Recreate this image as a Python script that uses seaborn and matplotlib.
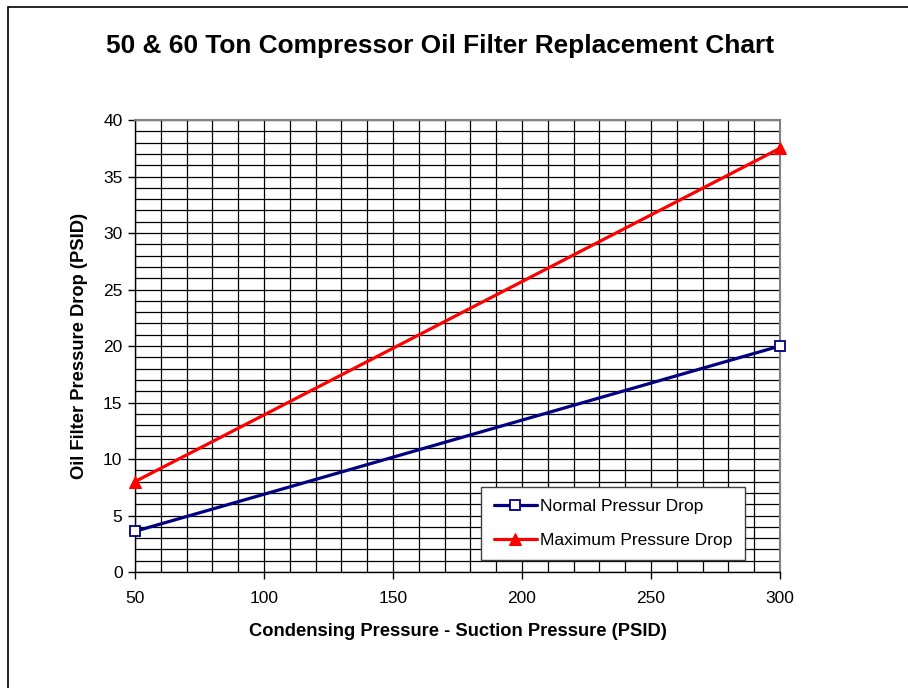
import matplotlib
matplotlib.use("Agg")
import matplotlib.pyplot as plt
import seaborn as sns
import pandas as pd
from matplotlib.patches import Rectangle

# Pressure differential (PSID) and filter pressure drop limits
condensing_minus_suction = [50, 300]
normal_drop = [3.6, 20.0]
maximum_drop = [8.0, 37.5]
series_names = ["Normal Pressur Drop", "Maximum Pressure Drop"]

x_ticks = [50, 100, 150, 200, 250, 300]
y_ticks = [0, 5, 10, 15, 20, 25, 30, 35, 40]

df = pd.DataFrame({
    "x": condensing_minus_suction * 2,
    "y": normal_drop + maximum_drop,
    "series": [series_names[0]] * 2 + [series_names[1]] * 2,
})

sns.set_style("white")
plt.rcParams["font.family"] = ["Liberation Sans", "DejaVu Sans"]
plt.rcParams["text.color"] = "black"
plt.rcParams["axes.labelcolor"] = "black"
plt.rcParams["xtick.color"] = "black"
plt.rcParams["ytick.color"] = "black"

fig = plt.figure(figsize=(9.08, 6.88), dpi=100)
ax = fig.add_axes([135 / 908, 1 - 572 / 688, (780 - 135) / 908, (572 - 120) / 688])

# outer chart frame
fig.patches.append(Rectangle((8 / 908, -0.05), 1.1, 1 - 7 / 688 + 0.05,
                             transform=fig.transFigure, fill=False,
                             edgecolor="black", linewidth=1.2, zorder=0))

# dense grid: every 10 PSID on x, every 1 PSID on y
for xv in range(50, 301, 10):
    ax.axvline(xv, color="black", linewidth=0.9, zorder=1)
for yv in range(0, 41, 1):
    ax.axhline(yv, color="black", linewidth=0.9, zorder=1)

palette = {series_names[0]: "#000080", series_names[1]: "#FF0000"}
markers = {series_names[0]: "s", series_names[1]: "^"}
sns.lineplot(data=df, x="x", y="y", hue="series", style="series",
             palette=palette, markers=markers, dashes=False,
             linewidth=2.3, markersize=8, ax=ax, zorder=3, clip_on=False)

# open square markers for the normal series
for line in ax.get_lines():
    if line.get_marker() == "s":
        line.set_markerfacecolor("white")
        line.set_markeredgecolor("#000080")
        line.set_markeredgewidth(1.3)
        line.set_markersize(7)
    elif line.get_marker() == "^":
        line.set_markerfacecolor("#FF0000")
        line.set_markeredgecolor("#FF0000")
        line.set_markersize(9)

ax.set_xlim(50, 300)
ax.set_ylim(0, 40)
ax.set_xticks(x_ticks)
ax.set_yticks(y_ticks)
ax.tick_params(axis="both", direction="out", length=5, width=1, color="black",
               labelsize=12.5, left=True, bottom=True, labelcolor="black")
ax.tick_params(axis="x", pad=9)
ax.tick_params(axis="y", pad=4)

for side in ["top", "right"]:
    ax.spines[side].set_color("#808080")
    ax.spines[side].set_linewidth(1.5)
for side in ["left", "bottom"]:
    ax.spines[side].set_color("black")
    ax.spines[side].set_linewidth(1.0)

ax.set_xlabel("Condensing Pressure - Suction Pressure (PSID)", fontsize=13.2,
              fontweight="bold", labelpad=12, color="black")
ax.set_ylabel("Oil Filter Pressure Drop (PSID)", fontsize=13.2,
              fontweight="bold", labelpad=11, color="black")

fig.text(440 / 908, 1 - 46 / 688, "50 & 60 Ton Compressor Oil Filter Replacement Chart",
         ha="center", va="center", fontsize=18.9, fontweight="bold", color="black")

handles, labels = ax.get_legend_handles_labels()
leg = ax.legend(handles, labels, loc="lower right",
                bbox_to_anchor=((745 - 135) / 645, (572 - 560) / 452),
                fontsize=12.5, frameon=True, fancybox=False,
                edgecolor="#404040", framealpha=1, borderpad=0.7,
                labelspacing=1.05, handlelength=2.5, handletextpad=0.2,
                borderaxespad=0)
leg.get_frame().set_linewidth(1.0)
leg.set_zorder(5)
for t in leg.get_texts():
    t.set_color("black")

fig.savefig("out.png", dpi=100)
